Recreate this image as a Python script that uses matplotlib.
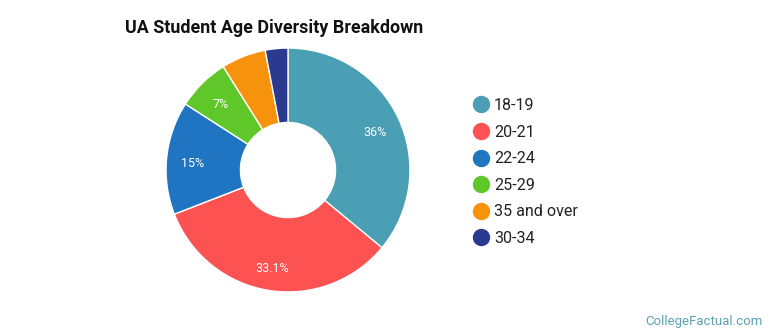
import matplotlib
matplotlib.use('Agg')
import matplotlib.pyplot as plt
from matplotlib.lines import Line2D
import numpy as np

plt.rcParams['font.family'] = ['Roboto', 'DejaVu Sans']

# age groups, clockwise from 12 o'clock
groups = ['18-19', '20-21', '22-24', '25-29', '35 and over', '30-34']
shares = [36.0, 33.1, 15.0, 7.0, 5.9, 3.0]
colors = ['#4a9fb4', '#fc5252', '#1f75c1', '#5fc72a', '#f7920c', '#2a3a8e']
min_label = 6.5  # slices below this get no label

fig = plt.figure(figsize=(7.7, 3.35), dpi=100)
fig.patch.set_facecolor('white')

cx, cy = 288, 170  # donut centre, px
ax = fig.add_axes([(cx - 125) / 770, (335 - cy - 125) / 335, 250 / 770, 250 / 335])
wedges, _ = ax.pie(shares, colors=colors, startangle=90, counterclock=False,
                   radius=1.0,
                   wedgeprops=dict(width=0.61, edgecolor='white', linewidth=1))
ax.set_xlim(-1.025, 1.025)
ax.set_ylim(-1.025, 1.025)
ax.set_aspect('equal')
ax.axis('off')

for w, v in zip(wedges, shares):
    if v < min_label:
        continue
    ang = np.deg2rad((w.theta1 + w.theta2) / 2)
    r = 0.79
    ax.text(r * np.cos(ang), r * np.sin(ang) - 0.025, f'{v:g}%', color='white',
            fontsize=9, ha='center', va='center')

fig.text(125 / 770, 1 - 28 / 335, 'UA Student Age Diversity Breakdown',
         fontsize=12.9, fontweight='bold', color='#111111', ha='left', va='center')

handles = [Line2D([], [], marker='o', linestyle='none', markersize=11.5,
                  markerfacecolor=c, markeredgecolor=c) for c in colors]
leg = fig.legend(handles, groups, loc='upper left',
                 bbox_to_anchor=(464 / 770, 1 - 90 / 335), frameon=False,
                 fontsize=11.6, labelspacing=0.72, handletextpad=0.25,
                 handlelength=1.1, borderpad=0)
for t in leg.get_texts():
    t.set_color('#222222')

fig.text(763 / 770, 1 - 321 / 335, 'CollegeFactual.com', fontsize=9.5,
         color='#5ba3b3', ha='right', va='center')

fig.savefig('out.png', dpi=100)
